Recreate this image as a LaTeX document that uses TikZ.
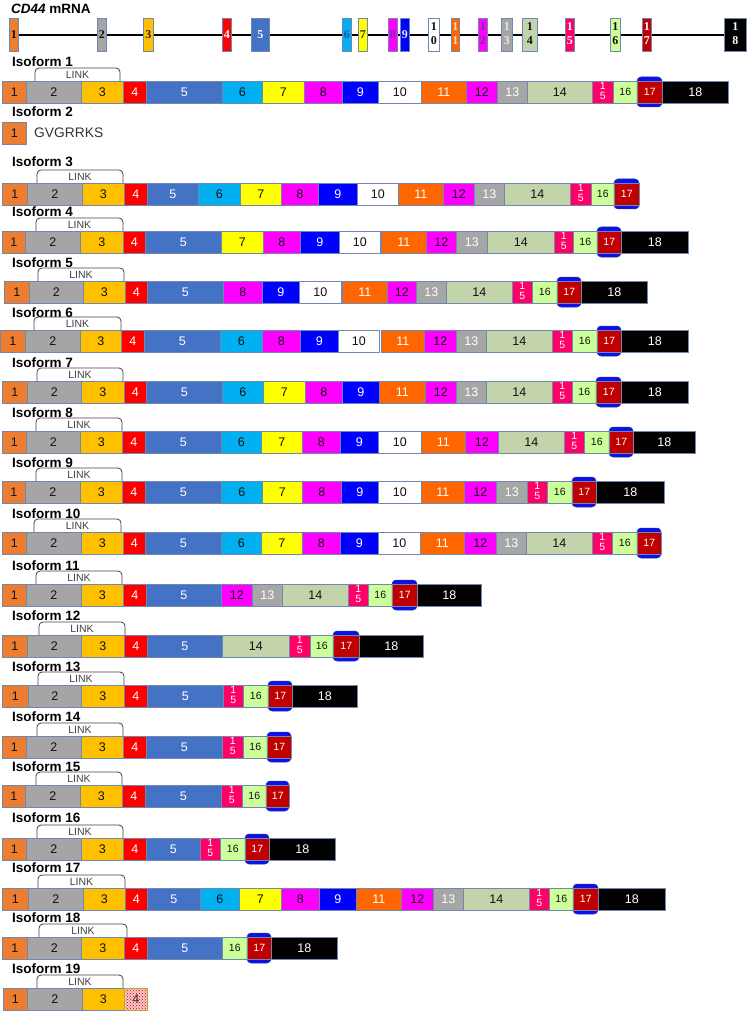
\documentclass[tikz,border=0pt]{standalone}
\usepackage{fontspec}
\setmainfont{Liberation Sans}
\newfontfamily\mserif{Liberation Serif}
\usetikzlibrary{patterns,backgrounds}

\definecolor{e1}{HTML}{ED7D31}\definecolor{e2}{HTML}{A5A5A5}\definecolor{e3}{HTML}{FFC000}
\definecolor{e4}{HTML}{FF0000}\definecolor{e5}{HTML}{4472C4}\definecolor{e6}{HTML}{00B0F0}
\definecolor{e7}{HTML}{FFFF00}\definecolor{e8}{HTML}{FF00FF}\definecolor{e9}{HTML}{0000FF}
\definecolor{e10}{HTML}{FFFFFF}\definecolor{e11}{HTML}{FF6600}\definecolor{e12}{HTML}{FF00FF}
\definecolor{e13}{HTML}{A6A6A6}\definecolor{e14}{HTML}{C4D4AA}\definecolor{e15}{HTML}{FF0066}
\definecolor{e16}{HTML}{CCFF99}\definecolor{e17}{HTML}{C00000}\definecolor{e18}{HTML}{000000}
% text colours in isoform bars
\definecolor{t1}{HTML}{111111}\definecolor{t2}{HTML}{111111}\definecolor{t3}{HTML}{111111}
\definecolor{t4}{HTML}{FFFFFF}\definecolor{t5}{HTML}{FFFFFF}\definecolor{t6}{HTML}{111111}
\definecolor{t7}{HTML}{111111}\definecolor{t8}{HTML}{111111}\definecolor{t9}{HTML}{FFFFFF}
\definecolor{t10}{HTML}{111111}\definecolor{t11}{HTML}{FFFFFF}\definecolor{t12}{HTML}{111111}
\definecolor{t13}{HTML}{FFFFFF}\definecolor{t14}{HTML}{111111}\definecolor{t15}{HTML}{FFFFFF}
\definecolor{t16}{HTML}{111111}\definecolor{t17}{HTML}{FFFFFF}\definecolor{t18}{HTML}{FFFFFF}
% text colours in mRNA exons
\definecolor{m1}{HTML}{111111}\definecolor{m2}{HTML}{111111}\definecolor{m3}{HTML}{222222}
\definecolor{m4}{HTML}{FFFFFF}\definecolor{m5}{HTML}{FFFFFF}\definecolor{m6}{HTML}{2A4FA0}
\definecolor{m7}{HTML}{333333}\definecolor{m8}{HTML}{7030A0}\definecolor{m9}{HTML}{E8E8FF}
\definecolor{m10}{HTML}{111111}\definecolor{m11}{HTML}{FFD8B8}\definecolor{m12}{HTML}{7030A0}
\definecolor{m13}{HTML}{E6E6E6}\definecolor{m14}{HTML}{111111}\definecolor{m15}{HTML}{FFFFFF}
\definecolor{m16}{HTML}{111111}\definecolor{m17}{HTML}{FFFFFF}\definecolor{m18}{HTML}{FFFFFF}
\definecolor{bord}{HTML}{7088B0}
\definecolor{linkc}{HTML}{404040}
\definecolor{fblue}{HTML}{0A10F0}
\definecolor{fdark}{HTML}{1F3A7F}

\tikzset{
  ex/.style={draw=bord, line width=0.5pt, inner sep=0pt, minimum height=22pt,
    anchor=north west, font=\fontsize{12.5}{14}\selectfont},
  mex/.style={draw=bord, line width=0.6pt, inner sep=0pt, minimum height=33pt,
    anchor=north west, font=\mserif\bfseries\fontsize{12}{14}\selectfont},
  ttl/.style={anchor=west, inner sep=0pt, font=\bfseries\fontsize{13.5}{15}\selectfont},
  linkb/.style={draw=linkc, line width=0.8pt, rounded corners=4pt},
  linkl/.style={inner sep=0pt, text=linkc, font=\fontsize{10.5}{12}\selectfont},
  frameb/.style={fill=fblue, draw=fdark, line width=0.5pt, rounded corners=4pt},
}

\newcommand\exlbl[1]{\ifnum#1=15 {\fontsize{10.5}{11.5}\selectfont\renewcommand\arraystretch{0.94}\begin{tabular}{@{}c@{}}1\\5\end{tabular}}%
  \else\ifnum#1=16 {\fontsize{10.5}{12}\selectfont 16}%
  \else\ifnum#1=17 {\fontsize{10.5}{12}\selectfont 17}%
  \else #1\fi\fi\fi}
\newcommand\mlbl[1]{\ifnum#1>9 \begin{tabular}{@{}c@{}}1\\\the\numexpr#1-10\relax\end{tabular}\else #1\fi}

\newcommand\isorow[6]{%
  \node[ttl] (t#1) at (12,#2) {Isoform #1};
  \path[linkb] (#4,#3) -- (#4,#3-13) -- (#5,#3-13) -- (#5,#3);
  \node[linkl] (l#1) at ({(#4+#5)/2},#3-6) {LINK};
  \foreach \En/\Xa/\Xb in {#6} {%
    \pgfmathsetmacro\W{\Xb-\Xa}%
    \ifnum\En=17 \path[frameb] (\Xa,#3-4) rectangle (\Xb,#3+26);\fi
    \node[ex, fill=e\En, text=t\En, minimum width=\W pt] (i#1e\En) at (\Xa,#3) {\exlbl{\En}};
  }%
}

\begin{document}
\begin{tikzpicture}[x=1pt,y=-1pt]
\useasboundingbox (0,0) rectangle (750,1016);

% ---- CD44 mRNA ----
\node[anchor=west, inner sep=0pt, font=\bfseries\fontsize{13.5}{15}\selectfont] (title) at (11,9) {\textit{CD44} mRNA};
\foreach \En/\Xa/\Xb in {1/9/18, 2/97/106, 3/143/153, 4/222/231, 5/251/269, 6/342/351, 7/358/367,
  8/388/397, 9/400/409, 10/428/439, 11/451/459, 12/478/487, 13/501/512, 14/522/537,
  15/565/574, 16/610/620, 17/642/651, 18/724/746} {
  \pgfmathsetmacro\W{\Xb-\Xa}
  \node[mex, fill=e\En, text=m\En, minimum width=\W pt] (m\En) at (\Xa,18) {\mlbl{\En}};
}
\begin{pgfonlayer}{background}
  \draw[line width=1.6pt] (m1.west) -- (m18.east);
\end{pgfonlayer}

% ---- Isoforms ----
\isorow{1}{62}{81}{35}{120}{1/2/26, 2/26/81, 3/81/123, 4/123/146, 5/146/222, 6/222/262, 7/262/304, 8/304/342, 9/342/378, 10/378/421, 11/421/466, 12/466/497, 13/497/527, 14/527/592, 15/592/613, 16/613/637, 17/637/662, 18/662/728}

\node[ttl] (t2) at (12,112) {Isoform 2};
\node[ex, fill=e1, text=t1, minimum width=24pt] (i2e1) at (2,122) {1};
\node[anchor=west, inner sep=0pt, text=black!80, font=\fontsize{13.8}{15}\selectfont] (gv) at (34,133) {GVGRRKS};

\isorow{3}{162}{183}{37}{123}{1/2/27, 2/27/82, 3/82/124, 4/124/147, 5/147/198, 6/198/240, 7/240/281, 8/281/318, 9/318/357, 10/357/398, 11/398/443, 12/443/474, 13/474/504, 14/504/570, 15/570/591, 16/591/614, 17/614/639}

\isorow{4}{212}{231}{36}{123}{1/2/25, 2/25/80, 3/80/123, 4/123/145, 5/145/221, 7/221/263, 8/263/300, 9/300/339, 10/339/380, 11/381/426, 12/426/456, 13/456/487, 14/487/554, 15/554/573, 16/573/597, 17/597/621, 18/621/688}

\isorow{5}{263}{281}{38}{124}{1/4/29, 2/29/83, 3/83/125, 4/125/147, 5/147/223, 8/223/262, 9/262/299, 10/299/341, 11/342/387, 12/387/416, 13/416/446, 14/446/512, 15/512/532, 16/532/557, 17/557/581, 18/581/647}

\isorow{6}{313}{330}{34}{121}{1/0/25, 2/25/80, 3/80/121, 4/121/144, 5/144/220, 6/220/262, 8/262/300, 9/300/338, 10/338/379, 11/381/424, 12/424/456, 13/456/486, 14/486/552, 15/552/572, 16/572/597, 17/597/621, 18/621/688}

\isorow{7}{363}{381}{37}{123}{1/2/27, 2/27/81, 3/81/124, 4/124/146, 5/146/222, 6/222/263, 7/263/305, 8/305/342, 9/342/379, 11/379/425, 12/425/456, 13/456/486, 14/486/552, 15/552/572, 16/572/596, 17/596/621, 18/621/688}

\isorow{8}{413}{431}{36}{122}{1/2/26, 2/26/80, 3/80/122, 4/122/145, 5/145/221, 6/221/261, 7/261/302, 8/302/340, 9/340/378, 10/378/421, 11/421/465, 12/465/498, 14/498/564, 15/564/584, 16/584/609, 17/609/633, 18/633/695}

\isorow{9}{463}{481}{36}{122}{1/2/25, 2/25/80, 3/80/122, 4/122/145, 5/145/221, 6/221/262, 7/262/302, 8/302/341, 9/341/378, 10/378/421, 11/421/464, 12/464/496, 13/496/527, 15/527/547, 16/547/572, 17/572/596, 18/596/664}

\isorow{10}{514}{532}{34}{121}{1/2/26, 2/26/81, 3/81/123, 4/123/145, 5/145/221, 6/221/261, 7/261/302, 8/302/340, 9/340/378, 10/378/420, 11/420/464, 12/464/496, 13/496/526, 14/526/592, 15/592/612, 16/612/637, 17/637/661}

\isorow{11}{566}{584}{36}{122}{1/2/26, 2/26/81, 3/81/123, 4/123/146, 5/146/221, 12/221/252, 13/252/282, 14/282/348, 15/348/368, 16/368/392, 17/392/417, 18/417/481}

\isorow{12}{616}{635}{39}{125}{1/2/27, 2/27/81, 3/81/124, 4/124/147, 5/147/222, 14/222/289, 15/289/310, 16/310/333, 17/333/359, 18/359/423}

\isorow{13}{667}{685}{38}{124}{1/2/28, 2/28/81, 3/81/124, 4/124/147, 5/147/223, 15/223/243, 16/243/268, 17/268/292, 18/292/357}

\isorow{14}{717}{736}{37}{123}{1/2/26, 2/26/81, 3/81/123, 4/123/146, 5/146/222, 15/222/243, 16/243/267, 17/267/291}

\isorow{15}{767}{785}{36}{122}{1/2/25, 2/25/80, 3/80/122, 4/122/145, 5/145/221, 15/221/242, 16/242/266, 17/266/289}

\isorow{16}{818}{838}{37}{123}{1/2/26, 2/26/81, 3/81/123, 4/123/146, 5/146/200, 15/200/220, 16/220/245, 17/245/269, 18/269/335}

\isorow{17}{868}{888}{38}{125}{1/2/28, 2/28/83, 3/83/125, 4/125/147, 5/147/200, 6/200/239, 7/239/281, 8/281/319, 9/319/356, 11/356/401, 12/401/433, 13/433/463, 14/463/529, 15/529/549, 16/549/573, 17/573/598, 18/598/665}

\isorow{18}{918}{937}{39}{127}{1/2/27, 2/27/81, 3/81/124, 4/124/147, 5/147/222, 16/222/247, 17/247/271, 18/271/337}

\isorow{19}{969}{988}{37}{123}{1/3/27, 2/27/82, 3/82/124}
\node[ex, draw=olive!70, minimum width=23pt, preaction={fill=red!22}, pattern=crosshatch dots, pattern color=red!75!black, text=black!80] (i19e4) at (124,988) {4};
\end{tikzpicture}
\end{document}
